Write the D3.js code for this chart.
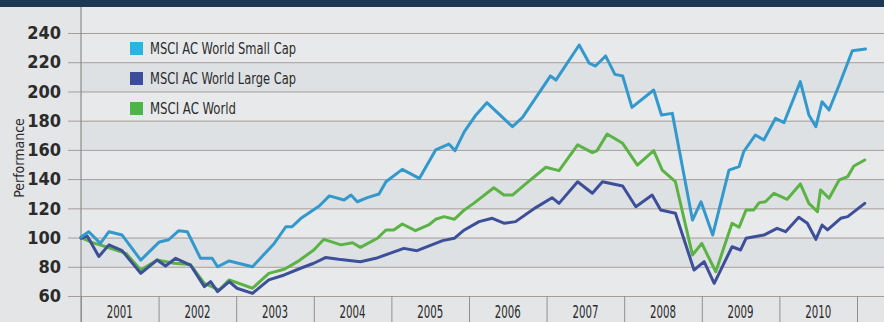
<!DOCTYPE html>
<html>
<head>
<meta charset="utf-8">
<script src="https://cdn.jsdelivr.net/npm/d3@7"></script>
<style>
  body { margin: 0; background: #e3e5e7; }
  svg { display: block; }
  text { font-family: "Liberation Sans Narrow", "DejaVu Sans Condensed", "Roboto", sans-serif; fill: #2b2b2b; }
</style>
</head>
<body>
<svg width="884" height="322"></svg>
<script>
// series names / colours for the legend
const seriesNames = ["MSCI AC World Small Cap", "MSCI AC World Large Cap", "MSCI AC World"];
const yearLabels = ["2001", "2002", "2003", "2004", "2005", "2006", "2007", "2008", "2009", "2010"];
const yTicks = [60, 80, 100, 120, 140, 160, 180, 200, 220, 240];

// small cap: time (decimal year) and value
const smallCapDates = [2001.00, 2001.10, 2001.25, 2001.36, 2001.53, 2001.77, 2002.01, 2002.13, 2002.26, 2002.37,
  2002.54, 2002.69, 2002.76, 2002.91, 2003.21, 2003.49, 2003.64, 2003.72, 2003.83, 2003.96,
  2004.07, 2004.20, 2004.39, 2004.48, 2004.56, 2004.69, 2004.84, 2004.93, 2005.14, 2005.36,
  2005.57, 2005.74, 2005.82, 2005.94, 2006.09, 2006.23, 2006.56, 2006.69, 2007.05, 2007.12,
  2007.42, 2007.55, 2007.63, 2007.76, 2007.88, 2007.98, 2008.10, 2008.38, 2008.48, 2008.62,
  2008.88, 2008.99, 2009.14, 2009.35, 2009.48, 2009.54, 2009.69, 2009.80, 2009.95, 2010.06,
  2010.27, 2010.38, 2010.47, 2010.55, 2010.64, 2010.77, 2010.94, 2011.11];
const smallCapValues = [100.4, 104, 96, 104, 101.7, 84.6, 97, 98.5, 104.7, 104,
  85.8, 85.8, 80, 84, 80, 96, 107.4, 107.4, 113, 117.7,
  121.6, 128.5, 125.7, 129.1, 124.5, 127.3, 129.8, 138.2, 146.7, 140.5,
  160, 164, 159.5, 172.5, 183.9, 192.3, 175.9, 182.3, 210.6, 207.8,
  231.8, 219.3, 217.4, 224.3, 211.7, 210.6, 189.1, 201, 183.9, 185,
  112, 124.5, 101.7, 146.2, 148.5, 158.8, 170.2, 166.8, 181.6, 178.7,
  206.7, 183.9, 175.9, 193, 187.3, 204.4, 227.9, 229.1];

// large cap
const largeCapDates = [2001.00, 2001.08, 2001.23, 2001.36, 2001.53, 2001.77, 2001.98, 2002.09, 2002.22, 2002.41,
  2002.59, 2002.67, 2002.76, 2002.91, 2003.01, 2003.21, 2003.42, 2003.62, 2003.83, 2004.00,
  2004.15, 2004.32, 2004.60, 2004.80, 2005.16, 2005.33, 2005.66, 2005.81, 2005.94, 2006.13,
  2006.30, 2006.45, 2006.60, 2006.86, 2007.07, 2007.16, 2007.40, 2007.59, 2007.72, 2007.98,
  2008.15, 2008.36, 2008.47, 2008.66, 2008.90, 2009.03, 2009.16, 2009.39, 2009.50, 2009.57,
  2009.80, 2009.97, 2010.08, 2010.25, 2010.36, 2010.47, 2010.55, 2010.62, 2010.79, 2010.88,
  2011.10];
const largeCapValues = [99.5, 101, 87, 95, 91, 75.5, 84.6, 80.5, 85.8, 81.2,
  66.4, 69.8, 63, 69.8, 65.3, 61.8, 71, 74.4, 79, 82.4,
  86.3, 85.1, 83.5, 85.8, 92.6, 91, 97.9, 99.5, 105.2, 110.9,
  113.2, 109.8, 110.9, 120.5, 127.3, 123.4, 138.2, 130.3, 138.2, 135.3,
  121.1, 129.1, 118.9, 116.6, 77.8, 83.5, 68.7, 93.7, 91.5, 99.5,
  101.7, 106.3, 104, 113.9, 109.8, 98.8, 108.6, 105.2, 113.2, 114.3,
  123.4];

// all cap world
const worldDates = [2001.00, 2001.15, 2001.32, 2001.58, 2001.77, 2001.98, 2002.20, 2002.41, 2002.59, 2002.78,
  2002.91, 2003.21, 2003.42, 2003.62, 2003.79, 2004.00, 2004.13, 2004.35, 2004.50, 2004.60,
  2004.82, 2004.93, 2005.03, 2005.14, 2005.31, 2005.48, 2005.57, 2005.68, 2005.81, 2005.94,
  2006.06, 2006.32, 2006.45, 2006.56, 2006.73, 2006.99, 2007.16, 2007.40, 2007.59, 2007.65,
  2007.78, 2007.98, 2008.17, 2008.38, 2008.49, 2008.66, 2008.88, 2009.00, 2009.18, 2009.39,
  2009.48, 2009.57, 2009.67, 2009.74, 2009.82, 2009.93, 2010.10, 2010.27, 2010.38, 2010.49,
  2010.53, 2010.64, 2010.77, 2010.88, 2010.96, 2011.10];
const worldValues = [100, 96.5, 93.7, 89.2, 77.8, 84.6, 82.4, 81.5, 68.7, 64.1,
  71, 65.3, 75.5, 78.3, 83.5, 91.5, 98.8, 95, 96.5, 93.3,
  99.5, 105.2, 105.2, 109.3, 104.7, 108.6, 112.5, 114.3, 112.5, 118.9,
  123.4, 134.1, 129.1, 129.1, 136.7, 148.1, 145.8, 163.4, 158.1, 159.5,
  170.9, 164.5, 149.6, 159.5, 146.2, 138.2, 88.1, 96, 76.6, 109.8,
  107, 118.9, 118.9, 123.9, 124.5, 130.3, 126.2, 136.7, 123.4, 117.7,
  132.6, 126.9, 139.4, 141.7, 149, 153.1];

const W = 884, H = 322;
const svg = d3.select("svg");

const x = d3.scaleLinear().domain([2001, 2011]).range([81, 857]);
const y = d3.scaleLinear().domain([60, 240]).range([296, 33]);

const lineColors = ["#3399cc", "#3d4f99", "#5cb345"];
const legendColors = ["#28b4e4", "#3c4e9a", "#4db548"];

// top title strip (cut off)
svg.append("rect").attr("x", 0).attr("y", 0).attr("width", W).attr("height", 7).attr("fill", "#1d3857");

// alternating bands between gridlines
for (let i = 0; i < yTicks.length - 1; i++) {
  const lo = yTicks[i], hi = yTicks[i + 1];
  svg.append("rect")
    .attr("x", 81).attr("y", y(hi))
    .attr("width", W - 81).attr("height", y(lo) - y(hi))
    .attr("fill", (i % 2 == 1) ? "#dee1e4" : "#e8e9eb");
}
svg.append("rect").attr("x", 81).attr("y", 7).attr("width", W - 81).attr("height", y(240) - 7).attr("fill", "#e8e9eb");

// y gridlines + labels
const yAxis = svg.append("g")
  .attr("transform", "translate(68,0)")
  .call(d3.axisLeft(y).tickValues(yTicks).tickSize(-(W - 68)).tickPadding(7));
yAxis.select(".domain").remove();
yAxis.selectAll("line").attr("stroke", "#a89c99").attr("stroke-width", 1);
yAxis.selectAll("text")
  .style("font-family", '"Liberation Sans Narrow", "DejaVu Sans Condensed", sans-serif')
  .style("font-size", "18px")
  .style("font-weight", "bold")
  .attr("fill", "#2f2f2f");

// vertical axis line
svg.append("line")
  .attr("x1", 81).attr("x2", 81).attr("y1", 7).attr("y2", H)
  .attr("stroke", "#8c8c8c").attr("stroke-width", 1.2);

// x axis: year separators
const yearTicks = d3.range(2001, 2012);
const xAxis = svg.append("g")
  .attr("transform", "translate(0," + y(60) + ")")
  .call(d3.axisBottom(x).tickValues(yearTicks).tickSize(H - y(60)).tickFormat(""));
xAxis.select(".domain").remove();
xAxis.selectAll("line").attr("stroke", "#8f8f8f").attr("stroke-width", 1);

svg.append("g").selectAll("text")
  .data(yearLabels)
  .join("text")
  .attr("x", (d, i) => x(2001.5 + i))
  .attr("y", 318)
  .attr("text-anchor", "middle")
  .attr("textLength", 26)
  .attr("lengthAdjust", "spacingAndGlyphs")
  .style("font-size", "17px")
  .text(d => d);

// y title
svg.append("text")
  .attr("transform", "translate(24,158) rotate(-90)")
  .attr("text-anchor", "middle")
  .style("font-size", "14px")
  .attr("fill", "#444")
  .text("Performance");

// lines
const series = [
  { dates: worldDates, values: worldValues, color: lineColors[2] },
  { dates: largeCapDates, values: largeCapValues, color: lineColors[1] },
  { dates: smallCapDates, values: smallCapValues, color: lineColors[0] }
];
const line = d3.line().x(d => x(d[0])).y(d => y(d[1]));
series.forEach(s => {
  svg.append("path")
    .datum(d3.zip(s.dates, s.values))
    .attr("d", line)
    .attr("fill", "none")
    .attr("stroke", s.color)
    .attr("stroke-width", 3)
    .attr("stroke-linejoin", "round")
    .attr("stroke-linecap", "round");
});

// legend
const legend = svg.append("g").attr("transform", "translate(130,42)");
const legendWidths = [146, 146, 86];
seriesNames.forEach((name, i) => {
  const g = legend.append("g").attr("transform", "translate(0," + i * 30 + ")");
  g.append("rect").attr("width", 13).attr("height", 13).attr("fill", legendColors[i]);
  g.append("text")
    .attr("x", 20).attr("y", 12)
    .attr("textLength", legendWidths[i])
    .attr("lengthAdjust", "spacingAndGlyphs")
    .style("font-size", "16px")
    .text(name);
});
</script>
</body>
</html>
